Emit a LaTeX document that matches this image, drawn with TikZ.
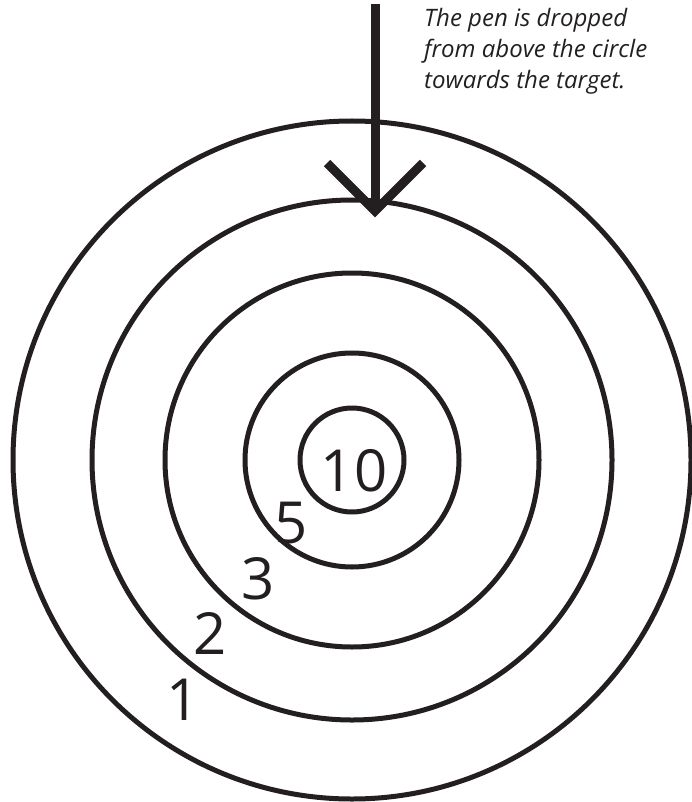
\documentclass[tikz,border=0pt]{standalone}
\usepackage{fontspec}
\setmainfont{Open Sans}
\definecolor{ink}{HTML}{231F20}
\begin{document}
\begin{tikzpicture}[x=1pt, y=-1pt,
    ring/.style={line width=5pt, draw=ink},
    pen/.style={line width=9pt, draw=ink, line join=miter},
    score/.style={text=ink, font=\fontsize{58}{70}\selectfont, inner sep=0pt},
    note/.style={text=ink, font=\itshape\fontsize{24}{31}\selectfont, align=left, anchor=north west, inner sep=0pt}]
  \useasboundingbox (0,0) rectangle (692,802);
  % target rings
  \coordinate (centre) at (352,460);
  \foreach \r in {339,260,187,107,52}
    \draw[ring] (centre) circle[radius=\r];
  % score labels
  \node[score] (s10) at (354,471) {10};
  \node[score] (s5) at (291,523) {5};
  \node[score] (s3) at (258,579) {3};
  \node[score] (s2) at (210,633) {2};
  \node[score] (s1) at (183,700) {1};
  % the pen falling onto the target
  \coordinate (pentop) at (375,4);
  \coordinate (pentip) at (375,211);
  \draw[pen] (pentop) -- (pentip);
  \draw[pen] (pentip) ++(-48,-48) -- (pentip) -- ++(48,-48);
  % note
  \node[note] (hint) at (424,8) {The pen is dropped\\from above the circle\\towards the target.};
\end{tikzpicture}
\end{document}
